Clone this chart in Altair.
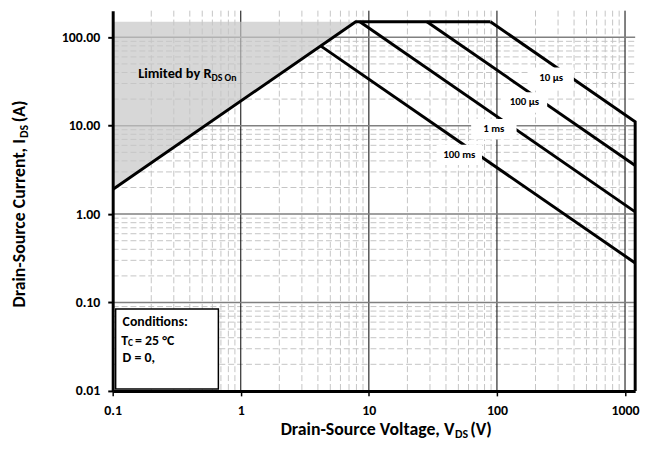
import altair as alt
import pandas as pd

W, H = 529, 385
FONT = "Carlito, Lato, sans-serif"

# ---------------- data ----------------
soa_v = [0.1, 7.9, 89]
soa_i = [1.9, 150, 150]
us10_v = [89, 1200, 1200]
us10_i = [150, 11.1, 0.01]
us100_v = [28.4, 1200]
us100_i = [150, 3.55]
ms1_v = [8.5, 1200]
ms1_i = [150, 1.06]
ms100_v = [4.2, 1200]
ms100_i = [80, 0.28]

shade_v = [0.1, 7.9]
shade_i = [1.9, 150]
shade_top = [150, 150]

label_text = ["10 µs", "100 µs", "1 ms", "100 ms"]
label_v = [265, 164, 94.6, 50.8]
label_i = [34.8, 18.3, 9.1, 4.68]

x_ticks = [0.1, 1, 10, 100, 1000]
y_ticks = [0.01, 0.1, 1, 10, 100]
x_major = [1, 10, 100, 1000]
y_major = [0.1, 1, 10, 100]
x_minor = [round(m * d, 6) for d in (0.1, 1, 10, 100) for m in range(2, 10)]
y_minor = [round(m * d, 6) for d in (0.01, 0.1, 1, 10) for m in range(2, 10)]

# ---------------- tables ----------------
series = {
    "limit": (soa_v, soa_i),
    "10us": (us10_v, us10_i),
    "100us": (us100_v, us100_i),
    "1ms": (ms1_v, ms1_i),
    "100ms": (ms100_v, ms100_i),
}
rows = []
for name, (vs, cs) in series.items():
    for k, (v, c) in enumerate(zip(vs, cs)):
        rows.append({"s": name, "o": k, "v": v, "i": c})
curves = pd.DataFrame(rows)
shade = pd.DataFrame({"v": shade_v, "i": shade_i, "top": shade_top})
labels = pd.DataFrame({"t": label_text, "v": label_v, "i": label_i})

xs = alt.Scale(type="log", domain=[0.1, 1200], nice=False)
ys = alt.Scale(type="log", domain=[0.01, 200], nice=False)

xaxis = alt.Axis(values=x_ticks, format="~g", title="", grid=False,
                 domainWidth=3, domainColor="black", tickColor="black",
                 tickWidth=1.5, tickSize=5, labelFont=FONT, labelFontSize=14,
                 labelFontWeight="bold", labelColor="black", labelPadding=8,
                 labelFlush=False, labelOverlap=False, zindex=1)
yaxis = alt.Axis(values=y_ticks, format=".2f", title="", grid=False,
                 domainWidth=3, domainColor="black", tickColor="black",
                 tickWidth=2, tickSize=5, labelFont=FONT, labelFontSize=14,
                 labelFontWeight="bold", labelColor="black", labelPadding=8,
                 labelFlush=False, labelOverlap=False, zindex=1)

X = alt.X("v:Q", scale=xs, axis=xaxis)
Y = alt.Y("i:Q", scale=ys, axis=yaxis)

one = pd.DataFrame({"a": [0]})

# grid
gx_minor = alt.Chart(pd.DataFrame({"v": x_minor})).mark_rule(
    color="#c4c4c4", strokeWidth=1, strokeDash=[6, 3]).encode(
    x=X, y=alt.value(0), y2=alt.value(H))
gy_minor = alt.Chart(pd.DataFrame({"i": y_minor})).mark_rule(
    color="#c4c4c4", strokeWidth=1, strokeDash=[6, 3]).encode(
    y=Y, x=alt.value(0), x2=alt.value(W))
gx_major = alt.Chart(pd.DataFrame({"v": x_major})).mark_rule(
    color="#000000", strokeWidth=1).encode(
    x=X, y=alt.value(0), y2=alt.value(H))
gy_major = alt.Chart(pd.DataFrame({"i": y_major})).mark_rule(
    color="#808080", strokeWidth=1.5).encode(
    y=Y, x=alt.value(0), x2=alt.value(W))

area = alt.Chart(shade).mark_area(color="#c6c6c6", opacity=0.7).encode(
    x=X, y=Y, y2="top:Q")

lines = alt.Chart(curves).mark_line(color="black", strokeWidth=3).encode(
    x=X, y=Y, detail="s:N", order="o:Q")

boxes = alt.Chart(labels).mark_point(
    shape="M-1,-0.45H1V0.45H-1Z", filled=True, color="white", opacity=1,
    size=46 * 46).encode(x=X, y=Y)
ltext = alt.Chart(labels).mark_text(
    font=FONT, fontSize=11, fontWeight="bold", color="black").encode(
    x=X, y=Y, text="t:N")


def txt(s, x, y, size=12, align="left", angle=0, baseline="middle"):
    kw = dict(font=FONT, fontSize=size, fontWeight="bold", color="black",
              align=align, baseline=baseline)
    if angle:
        kw["angle"] = angle
    return alt.Chart(one).mark_text(**kw).encode(
        x=alt.value(x), y=alt.value(y), text=alt.value(s))


cond_box = alt.Chart(one).mark_rect(fill="white", stroke="black",
                                    strokeWidth=1.5).encode(
    x=alt.value(3), x2=alt.value(107), y=alt.value(302), y2=alt.value(383))

annots = [
    txt("Conditions:", 10, 315, 14),
    txt("T", 15.5, 334, 14, align="right"),
    txt("C", 15.5, 337, 9.5),
    txt("= 25 °C", 22.7, 334, 14),
    txt("D = 0,", 10, 352, 14),
    txt("Limited by R", 100, 64, 14.5, align="right"),
    txt("DS On", 100, 68, 10),
    # x title
    txt("Drain-Source Voltage, V", 346, 425, 18, align="right"),
    txt("DS", 346.5, 429, 12),
    txt("(V)", 362, 425, 18),
    # y title (rotated)
    txt("Drain-Source Current, I", -94, 130, 18, align="right", angle=270),
    txt("DS", -90, 129, 12, angle=270),
    txt("(A)", -94, 113, 18, angle=270),
]

chart = alt.layer(
    gx_minor, gy_minor, gx_major, gy_major, area, lines, boxes, ltext,
    cond_box, *annots
).properties(
    width=W, height=H,
    autosize=alt.AutoSizeParams(type="none"),
    padding={"left": 106, "top": 0, "right": 14, "bottom": 50},
).configure_view(stroke=None)

chart.save("out.html", embed_options={"renderer": "svg", "actions": False})
